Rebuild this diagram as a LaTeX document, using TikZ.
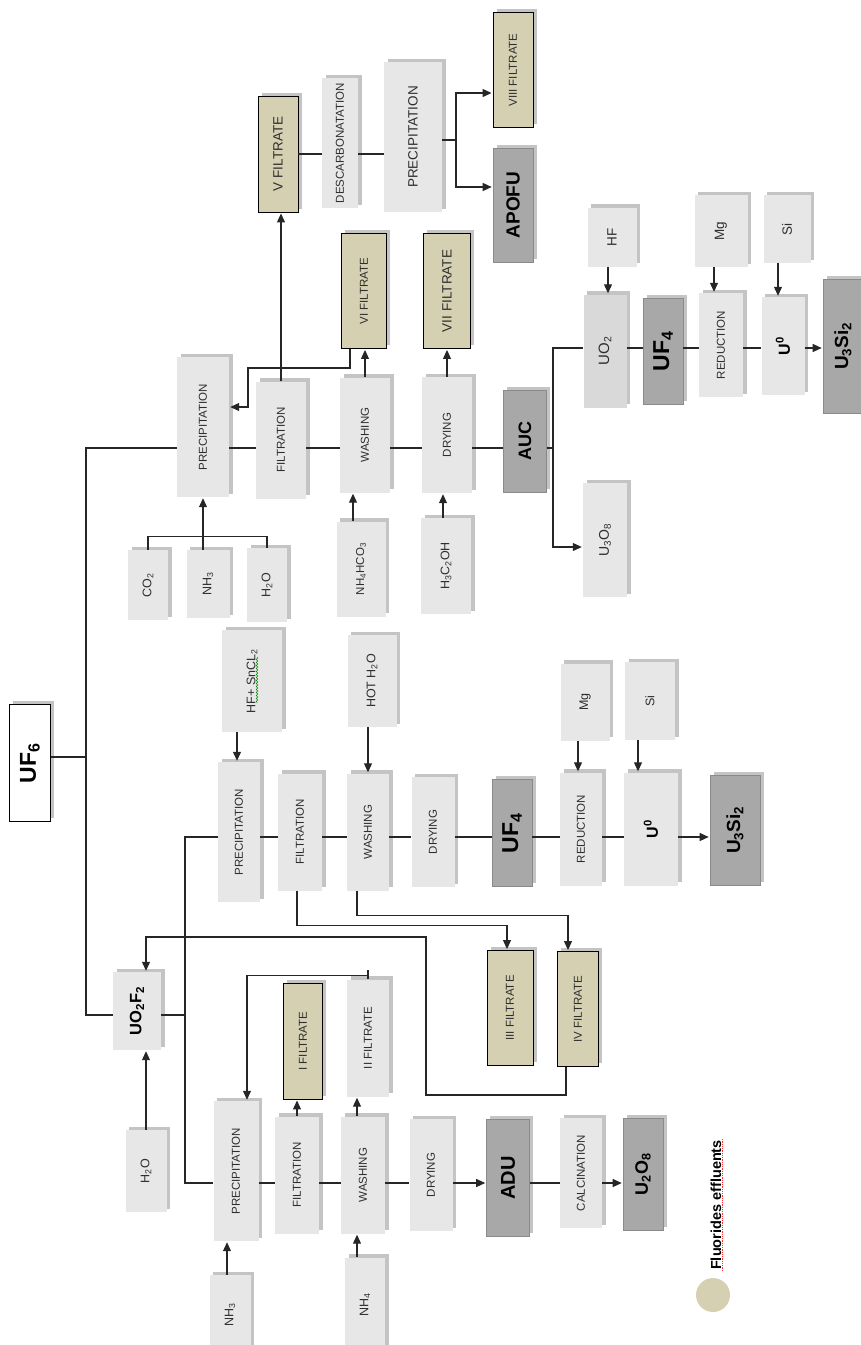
\documentclass[tikz,border=0pt]{standalone}
\usepackage{fontspec}
\setmainfont{Liberation Sans}
\usepackage{graphicx}
\usetikzlibrary{arrows.meta,calc,shadows,decorations.pathmorphing}

\definecolor{lightbox}{HTML}{E7E7E7}
\definecolor{midbox}{HTML}{D9D9D9}
\definecolor{darkbox}{HTML}{A8A8A8}
\definecolor{darkedge}{HTML}{8A8A8A}
\definecolor{shadowgray}{HTML}{C4C4C4}
\definecolor{filtan}{HTML}{D6D0B2}
\definecolor{linegray}{HTML}{262626}
\definecolor{txtgray}{HTML}{2E2E2E}

\newcommand{\vtxt}[1]{\rotatebox{90}{#1}}

\begin{document}
\begin{tikzpicture}[x=1pt,y=-1pt,
  line/.style={draw=linegray,line width=1.1pt},
  arr/.style={line,-{Triangle[length=9pt,width=8pt]},shorten >=1pt},
  sz/.style 2 args={minimum width=#1,minimum height=#2},
  base/.style={inner sep=0pt,text=txtgray,
    general shadow={fill=shadowgray,shadow xshift=3.5pt,shadow yshift=3.5pt}},
  proc/.style={base,fill=lightbox,font=\fontsize{11.5}{12}\selectfont},
  feed/.style={base,fill=lightbox,font=\fontsize{12.5}{13}\selectfont},
  prod/.style={base,fill=darkbox,draw=darkedge,line width=0.6pt,text=black,
    font=\fontsize{19}{20}\selectfont\bfseries},
  filt/.style={base,fill=filtan,draw=black,line width=0.9pt,
    font=\fontsize{11.5}{12}\selectfont},
  bigfilt/.style={filt,font=\fontsize{13.5}{14}\selectfont}
]
  \useasboundingbox (0,0) rectangle (861,1345);

  % source
  \node[base,fill=white,draw=black,line width=0.9pt,sz={41}{117},text=black,
    font=\fontsize{23}{24}\selectfont\bfseries] (uf6) at (30,763) {\vtxt{UF\textsubscript{6}}};

  % AUC route
  \node[proc,sz={52}{140}] (precA) at (203,427) {\vtxt{PRECIPITATION}};
  \node[proc,sz={50}{117}] (filtA) at (281,440) {\vtxt{FILTRATION}};
  \node[proc,sz={50}{115}] (washA) at (365,435) {\vtxt{WASHING}};
  \node[proc,sz={50}{116}] (dryA) at (447,435) {\vtxt{DRYING}};
  \node[prod,sz={43}{102},font=\fontsize{18}{19}\selectfont\bfseries] (auc) at (525,441) {\vtxt{AUC}};
  \node[feed,sz={40}{70}] (co2) at (148,585) {\vtxt{CO\textsubscript{2}}};
  \node[feed,sz={43}{68}] (nh3A) at (208,584) {\vtxt{NH\textsubscript{3}}};
  \node[feed,sz={40}{74}] (h2oA) at (267,585) {\vtxt{H\textsubscript{2}O}};
  \node[proc,sz={49}{95}] (nh4hco3) at (361,569) {\vtxt{NH\textsubscript{4}HCO\textsubscript{3}}};
  \node[feed,sz={50}{96}] (h3c2oh) at (446,566) {\vtxt{H\textsubscript{3}C\textsubscript{2}OH}};
  \node[bigfilt,sz={40}{116}] (vfil) at (278,154) {\vtxt{V FILTRATE}};
  \node[filt,sz={45}{115}] (vifil) at (364,291) {\vtxt{VI FILTRATE}};
  \node[bigfilt,sz={47}{115}] (viifil) at (447,291) {\vtxt{VII FILTRATE}};
  \node[proc,sz={36}{130}] (descarb) at (340,143) {\vtxt{DESCARBONATATION}};
  \node[proc,sz={58}{150},font=\fontsize{13.5}{14}\selectfont] (precT) at (413,137) {\vtxt{PRECIPITATION}};
  \node[prod,sz={40}{114}] (apofu) at (513,205) {\vtxt{APOFU}};
  \node[filt,sz={40}{115}] (viiifil) at (513,70) {\vtxt{VIII FILTRATE}};
  \node[proc,sz={44}{114},font=\fontsize{14}{15}\selectfont] (u3o8A) at (605,540) {\vtxt{U\textsubscript{3}O\textsubscript{8}}};
  \node[proc,fill=midbox,sz={43}{113},font=\fontsize{15}{16}\selectfont] (uo2) at (605,351) {\vtxt{UO\textsubscript{2}}};
  \node[prod,sz={40}{106},font=\fontsize{23}{24}\selectfont\bfseries] (uf4A) at (663,351) {\vtxt{UF\textsubscript{4}}};
  \node[proc,sz={44}{104}] (redA) at (721,345) {\vtxt{REDUCTION}};
  \node[proc,sz={43}{98},text=black,font=\fontsize{16}{17}\selectfont\bfseries] (u0A) at (783,346) {\vtxt{U\textsuperscript{0}}};
  \node[prod,sz={40}{134}] (u3si2A) at (843,346) {\vtxt{U\textsubscript{3}Si\textsubscript{2}}};
  \node[feed,sz={49}{59},font=\fontsize{13.5}{14}\selectfont] (hfA) at (612,237) {\vtxt{HF}};
  \node[feed,sz={53}{72},font=\fontsize{13.5}{14}\selectfont] (mgA) at (721,231) {\vtxt{Mg}};
  \node[feed,sz={47}{68},font=\fontsize{13.5}{14}\selectfont] (siA) at (787,229) {\vtxt{Si}};

  % UF4 route
  \node[proc,sz={42}{140}] (precB) at (239,832) {\vtxt{PRECIPITATION}};
  \node[proc,sz={44}{117}] (filtB) at (300,832) {\vtxt{FILTRATION}};
  \node[proc,sz={42}{117}] (washB) at (368,832) {\vtxt{WASHING}};
  \node[proc,sz={43}{110}] (dryB) at (433,832) {\vtxt{DRYING}};
  \node[prod,sz={40}{107},font=\fontsize{23}{24}\selectfont\bfseries] (uf4B) at (512,833) {\vtxt{UF\textsubscript{4}}};
  \node[proc,sz={42}{113}] (redB) at (581,829) {\vtxt{REDUCTION}};
  \node[proc,sz={54}{113},text=black,font=\fontsize{16}{17}\selectfont\bfseries] (u0B) at (651,829) {\vtxt{U\textsuperscript{0}}};
  \node[prod,sz={50}{110}] (u3si2B) at (735,830) {\vtxt{U\textsubscript{3}Si\textsubscript{2}}};
  \node[feed,sz={49}{77}] (mgB) at (585,702) {\vtxt{Mg}};
  \node[feed,sz={50}{78}] (siB) at (650,701) {\vtxt{Si}};
  \node[feed,sz={60}{102}] (hfsn) at (252,681) {\vtxt{HF+ SnCL\textsubscript{2}}};
  \node[feed,sz={49}{92}] (hoth2o) at (372,681) {\vtxt{HOT H\textsubscript{2}O}};
  \node[filt,sz={46}{115}] (iiifil) at (510,1008) {\vtxt{III FILTRATE}};
  \node[filt,sz={41}{115}] (ivfil) at (578,1009) {\vtxt{IV FILTRATE}};
  \draw[green!55!black,line width=0.5pt,decorate,decoration={snake,amplitude=0.8pt,segment length=3pt}]
    ($(hfsn.center)+(5,-24)$) -- ($(hfsn.center)+(5,22)$);

  % ADU route
  \node[proc,sz={48}{78},text=black,font=\fontsize{16.5}{17}\selectfont\bfseries] (uo2f2) at (137,1011) {\vtxt{UO\textsubscript{2}F\textsubscript{2}}};
  \node[feed,sz={41}{82}] (h2oC) at (146,1171) {\vtxt{H\textsubscript{2}O}};
  \node[proc,sz={45}{140}] (precC) at (236,1171) {\vtxt{PRECIPITATION}};
  \node[proc,sz={44}{117}] (filtC) at (297,1175) {\vtxt{FILTRATION}};
  \node[proc,sz={44}{117}] (washC) at (363,1175) {\vtxt{WASHING}};
  \node[proc,sz={43}{112}] (dryC) at (431,1175) {\vtxt{DRYING}};
  \node[prod,sz={43}{117},font=\fontsize{20}{21}\selectfont\bfseries] (adu) at (508,1178) {\vtxt{ADU}};
  \node[proc,sz={42}{110}] (calc) at (581,1173) {\vtxt{CALCINATION}};
  \node[prod,sz={40}{112},font=\fontsize{18}{19}\selectfont\bfseries] (u2o8) at (643,1174) {\vtxt{U\textsubscript{2}O\textsubscript{8}}};
  \node[filt,sz={39}{116}] (ifil) at (303,1041) {\vtxt{I FILTRATE}};
  \node[proc,sz={42}{117}] (iifil) at (368,1038) {\vtxt{II FILTRATE}};
  \node[feed,sz={41}{80}] (nh3C) at (230,1315) {\vtxt{NH\textsubscript{3}}};
  \node[feed,sz={40}{95}] (nh4C) at (365,1305) {\vtxt{NH\textsubscript{4}}};

  % legend
  \fill[filtan] (713,1295) circle (17);
  \node[rotate=90,inner sep=1pt,text=black,font=\fontsize{14.5}{15}\selectfont\bfseries] (legtxt) at (716,1205) {Fluorides effluents};
  \draw[red!80,densely dotted,line width=0.8pt] (legtxt.south west) -- (legtxt.south east);

  % junctions
  \coordinate (jA) at (86,448);
  \coordinate (jU) at (86,1015);
  \coordinate (jB) at (185,837);
  \coordinate (jC) at (185,1183);
  \coordinate (jT) at (553,348);
  \coordinate (jS) at (553,547);
  \coordinate (jP) at (456,140);
  \coordinate (b6) at (248,368);
  \coordinate (bIV) at (426,1095);
  \coordinate (bUO) at (146,937);

  % feed lines from UF6
  \draw[line] (uf6.east |- 0,757) -- (jA |- 0,757);
  \draw[line] (precA.west |- jA) -- (jA) -- (jU) -- (uo2f2.west |- jU);
  \draw[line] (uo2f2.east |- jU) -- (jU -| jB);
  \draw[line] (precB.west |- jB) -- (jB) -- (jC) -- (precC.west |- jC);

  % AUC route lines
  \draw[line] (precA.east |- jA) -- (filtA.west |- jA) (filtA.east |- jA) -- (washA.west |- jA)
    (washA.east |- jA) -- (dryA.west |- jA) (dryA.east |- jA) -- (auc.west |- jA)
    (auc.east |- jA) -- (jA -| jT) -- (jT) -- (uo2.west |- jT);
  \draw[arr] (jA -| jT) -- (jS) -- (u3o8A.west |- jS);
  \draw[line] (uo2.east |- jT) -- (uf4A.west |- jT) (uf4A.east |- jT) -- (redA.west |- jT)
    (redA.east |- jT) -- (u0A.west |- jT);
  \draw[arr] (u0A.east |- jT) -- (u3si2A.west |- jT);
  \draw[line] (co2.north) -- ++(0,-13) -| (h2oA.north);
  \draw[arr] (precA.south |- nh3A.north) -- (precA.south);
  \draw[arr] ([xshift=-8pt]nh4hco3.north) -- ([xshift=-8pt]nh4hco3.north |- washA.south);
  \draw[arr] ([xshift=-3pt]h3c2oh.north) -- ([xshift=-3pt]h3c2oh.north |- dryA.south);
  \draw[arr] ([xshift=-4pt]hfA.south) -- ([xshift=-4pt]hfA.south |- uo2.north);
  \draw[arr] ([xshift=-7pt]mgA.south) -- ([xshift=-7pt]mgA.south |- redA.north);
  \draw[arr] ([xshift=-9pt]siA.south) -- ([xshift=-9pt]siA.south |- u0A.north);
  \draw[arr] (filtA.north) -- (filtA.north |- vfil.south);
  \draw[arr] (washA.north) -- (washA.north |- vifil.south);
  \draw[arr] (dryA.north) -- (dryA.north |- viifil.south);
  \draw[arr] ([xshift=-14pt]vifil.south) |- (b6) |- ([yshift=20pt]precA.east);
  \draw[line] (vfil.east) -- (descarb.west |- vfil.east) (descarb.east |- vfil.east) -- (precT.west |- vfil.east);
  \draw[line] (precT.east |- jP) -- (jP);
  \draw[arr] (jP) |- ([yshift=-23pt]viiifil.west);
  \draw[arr] (jP) |- ([yshift=18pt]apofu.west);

  % UF4 route lines
  \draw[line] (precB.east |- jB) -- (filtB.west |- jB) (filtB.east |- jB) -- (washB.west |- jB)
    (washB.east |- jB) -- (dryB.west |- jB) (dryB.east |- jB) -- (uf4B.west |- jB)
    (uf4B.east |- jB) -- (redB.west |- jB) (redB.east |- jB) -- (u0B.west |- jB);
  \draw[arr] (u0B.east |- jB) -- (u3si2B.west |- jB);
  \draw[arr] ([xshift=-15pt]hfsn.south) -- ([xshift=-15pt]hfsn.south |- precB.north);
  \draw[arr] ([xshift=-4pt]hoth2o.south) -- ([xshift=-4pt]hoth2o.south |- washB.north);
  \draw[arr] ([xshift=-7pt]mgB.south) -- ([xshift=-7pt]mgB.south |- redB.north);
  \draw[arr] ([xshift=-12pt]siB.south) -- ([xshift=-12pt]siB.south |- u0B.north);
  \draw[arr] ([xshift=-3pt]filtB.south) -- ++(0,35) -| ([xshift=-3pt]iiifil.north);
  \draw[arr] ([xshift=-11pt]washB.south) -- ++(0,25) -| ([xshift=-10pt]ivfil.north);
  \draw[arr] ([xshift=-12pt]ivfil.south) |- (bIV) |- (bUO) -- ([xshift=9pt]uo2f2.north);

  % ADU route lines
  \draw[arr] (h2oC.north) -- (h2oC.north |- uo2f2.south);
  \draw[line] (precC.east |- jC) -- (filtC.west |- jC) (filtC.east |- jC) -- (washC.west |- jC)
    (washC.east |- jC) -- (dryC.west |- jC);
  \draw[arr] (dryC.east |- jC) -- (adu.west |- jC);
  \draw[line] (adu.east |- jC) -- (calc.west |- jC);
  \draw[arr] (calc.east |- jC) -- (u2o8.west |- jC);
  \draw[arr] (filtC.north) -- (filtC.north |- ifil.south);
  \draw[arr] ([xshift=-6pt]washC.north) -- ([xshift=-6pt]washC.north |- iifil.south);
  \draw[line] (iifil.north) -- ++(0,-9);
  \draw[arr] ([yshift=4pt]iifil.north) -| ([xshift=11pt]precC.north);
  \draw[arr] ([xshift=-3pt]nh3C.north) -- ([xshift=-3pt]nh3C.north |- precC.south);
  \draw[arr] ([xshift=-8pt]nh4C.north) -- ([xshift=-8pt]nh4C.north |- washC.south);
\end{tikzpicture}
\end{document}
